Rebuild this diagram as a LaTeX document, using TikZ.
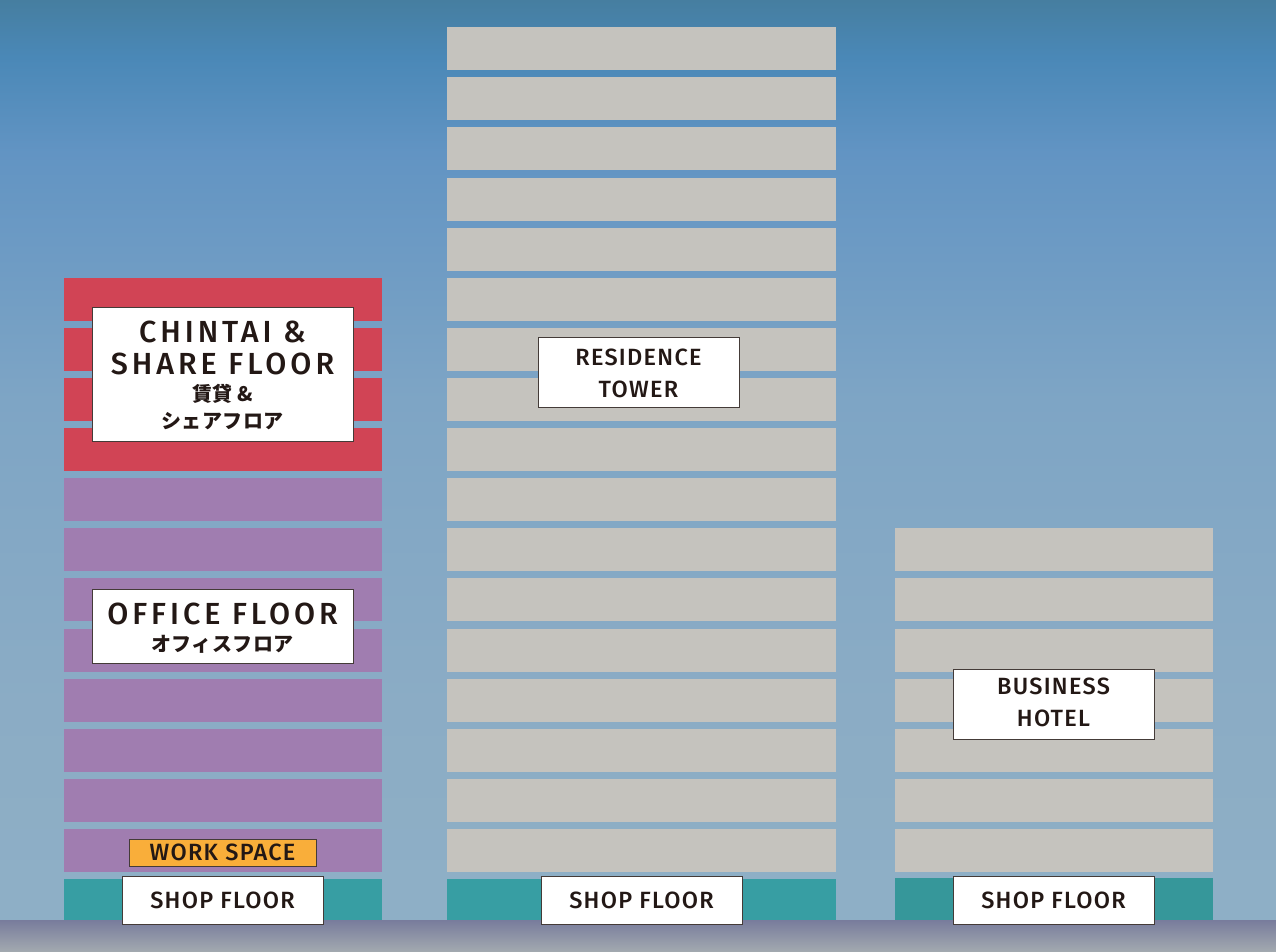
\documentclass[tikz,border=0pt]{standalone}
\usepackage{fontspec}
\setmainfont{Fira Sans}[BoldFont={Fira Sans Medium}]
\newfontfamily\signfont{Fira Sans}[LetterSpace=13,BoldFont={Fira Sans Medium}]
\newfontfamily\smallsignfont{Fira Sans}[LetterSpace=5.5,BoldFont={Fira Sans Medium}]
\newfontfamily\jpfont{Noto Sans CJK JP}[LetterSpace=2]
\usepackage{tikz}
\usetikzlibrary{positioning}
\definecolor{skytop}{HTML}{467EA0}
\definecolor{skyblue}{HTML}{4A88B7}
\definecolor{skyhigh}{HTML}{6294C3}
\definecolor{skyup}{HTML}{7EA5C5}
\definecolor{skymid}{HTML}{8BACC5}
\definecolor{skylow}{HTML}{8FB0C6}
\definecolor{chintai}{HTML}{D14455}
\definecolor{office}{HTML}{A07DB0}
\definecolor{tower}{HTML}{C5C3BE}
\definecolor{shop}{HTML}{379EA3}
\definecolor{shopdark}{HTML}{36979A}
\definecolor{work}{HTML}{F9AE3A}
\definecolor{ink}{HTML}{231815}
\definecolor{groundtop}{HTML}{787C9C}
\definecolor{groundmid}{HTML}{878D97}
\definecolor{groundlow}{HTML}{A3AAB0}
\pgfdeclareverticalshading{sky}{100bp}{color(0bp)=(skylow); color(25bp)=(skylow);
  color(38bp)=(skymid); color(54bp)=(skyup); color(67bp)=(skyhigh);
  color(72bp)=(skyblue); color(75bp)=(skytop); color(100bp)=(skytop)}
\tikzstyle{signbox} = [draw=ink!85,line width=1pt,fill=white,inner sep=0pt]
\tikzstyle{signtext} = [text=ink,inner sep=0pt,anchor=center]
\newcommand\bigsign{\signfont\bfseries\fontsize{30.5}{32}\selectfont}
\newcommand\smallsign{\smallsignfont\bfseries\fontsize{23.5}{25}\selectfont}
\newcommand\jpsign{\jpfont\bfseries\fontsize{20}{22}\selectfont}

\begin{document}
\begin{tikzpicture}[x=1pt,y=-1pt]
      \useasboundingbox (0,0) rectangle (1276,952);
      \def\pitch{50.1}
      \shade[shading=sky](0,0) rectangle (1276,952);
      % left building
      \foreach \k in {1,...,8}
        \fill[office](64,{879-\pitch*\k}) rectangle (382,{879-\pitch*\k+43});
      \foreach \k in {9,...,12}
        \fill[chintai](64,{879-\pitch*\k}) rectangle (382,{879-\pitch*\k+43});
      \fill[shop](64,879) rectangle (382,921);
      % residence tower
      \foreach \k in {1,...,17}
        \fill[tower](447,{879-\pitch*\k}) rectangle (836,{879-\pitch*\k+43});
      \fill[shop](447,879) rectangle (836,921);
      % business hotel
      \foreach \k in {1,...,7}
        \fill[tower](895,{879-\pitch*\k}) rectangle (1213,{879-\pitch*\k+43});
      \fill[shopdark](895,878) rectangle (1213,921);
      % ground
      \shade[top color=groundtop,middle color=groundmid,bottom color=groundlow](0,920) rectangle (1276,952);

      \node[signbox,minimum width=261pt,minimum height=134pt](chintaibox) at (222.5,374){};
      \node[signtext,font=\bigsign](chintaiA) at (222.5,331.7){CHINTAI \&};
      \node[signtext,font=\bigsign](chintaiB) at (222.5,364.3){SHARE FLOOR};
      \node[signtext,font=\jpsign](chintaiC) at (222.5,394){賃貸 \&};
      \node[signtext,font=\jpsign](chintaiD) at (222.5,421){シェアフロア};

      \node[signbox,minimum width=261pt,minimum height=74pt](officebox) at (222.5,626){};
      \node[signtext,font=\bigsign](officeA) at (222.5,613.5){OFFICE FLOOR};
      \node[signtext,font=\jpsign](officeB) at (222.5,644.5){オフィスフロア};

      \node[signbox,fill=work,minimum width=187pt,minimum height=27pt](workbox) at (222.5,852.5){};
      \node[signtext,font=\smallsign](workA) at (222.5,852){WORK SPACE};

      \node[signbox,minimum width=201pt,minimum height=70pt](residencebox) at (638.5,372){};
      \node[signtext,font=\smallsign](residenceA) at (638.5,357){RESIDENCE};
      \node[signtext,font=\smallsign](residenceB) at (638.5,389.5){TOWER};

      \node[signbox,minimum width=201pt,minimum height=70pt](hotelbox) at (1053.5,704){};
      \node[signtext,font=\smallsign](hotelA) at (1053.5,686.5){BUSINESS};
      \node[signtext,font=\smallsign](hotelB) at (1053.5,718.3){HOTEL};

      \node[signbox,minimum width=201pt,minimum height=48pt](shopA) at (222.5,900){};
      \node[signbox,minimum width=201pt,minimum height=48pt](shopB) at (641.5,900){};
      \node[signbox,minimum width=201pt,minimum height=48pt](shopC) at (1053.5,900){};
      \node[signtext,font=\smallsign](shopAtext) at (shopA){SHOP FLOOR};
      \node[signtext,font=\smallsign](shopBtext) at (shopB){SHOP FLOOR};
      \node[signtext,font=\smallsign](shopCtext) at (shopC){SHOP FLOOR};
    \end{tikzpicture}
\end{document}
